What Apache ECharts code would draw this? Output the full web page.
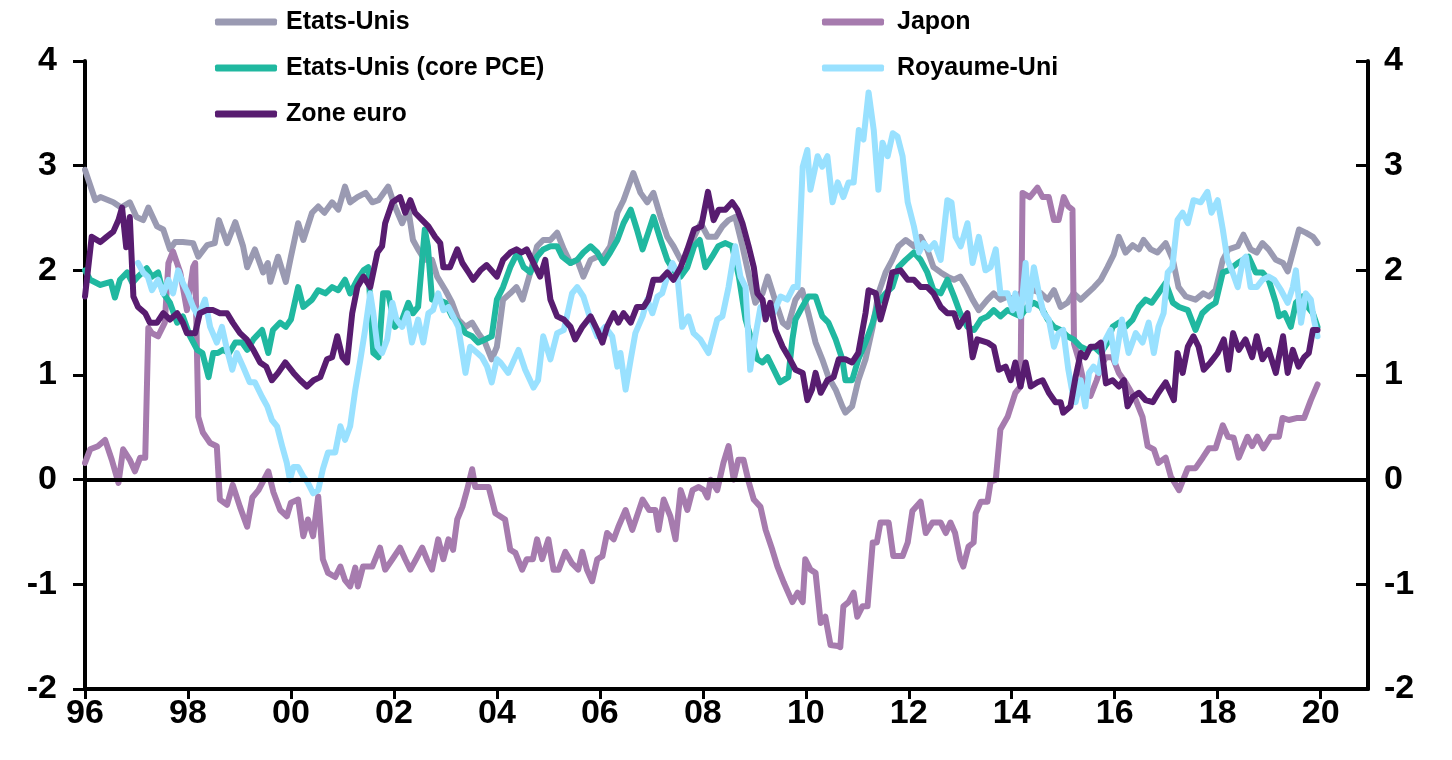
<!DOCTYPE html>
<html>
<head>
<meta charset="utf-8">
<script src="https://cdn.jsdelivr.net/npm/echarts@6/dist/echarts.min.js"></script>
<style>
  html, body { margin: 0; padding: 0; background: #fff; }
  #chart { width: 1452px; height: 760px; }
</style>
</head>
<body>
<div id="chart"></div>
<script>
// inflation sous-jacente, % a/a — [année décimale, valeur]
const etatsUnis = [[1996.0,2.96],[1996.2,2.67],[1996.3,2.7],[1996.55,2.65],[1996.7,2.6],[1996.87,2.65],[1997.0,2.51],[1997.13,2.48],[1997.23,2.6],[1997.4,2.42],[1997.52,2.39],[1997.65,2.2],[1997.75,2.27],[1997.9,2.27],[1998.1,2.26],[1998.2,2.13],[1998.37,2.24],[1998.52,2.26],[1998.6,2.48],[1998.76,2.26],[1998.92,2.46],[1999.07,2.23],[1999.15,2.03],[1999.3,2.2],[1999.46,1.98],[1999.55,2.07],[1999.6,1.89],[1999.75,2.13],[1999.9,1.89],[2000.0,2.13],[2000.14,2.45],[2000.24,2.29],[2000.41,2.55],[2000.53,2.61],[2000.65,2.55],[2000.8,2.65],[2000.92,2.58],[2001.05,2.8],[2001.15,2.65],[2001.29,2.7],[2001.45,2.74],[2001.58,2.65],[2001.7,2.67],[2001.89,2.8],[2002.02,2.61],[2002.16,2.45],[2002.28,2.58],[2002.37,2.29],[2002.47,2.2],[2002.6,2.1],[2002.74,2.1],[2002.84,1.94],[2003.0,1.81],[2003.13,1.69],[2003.25,1.53],[2003.39,1.46],[2003.52,1.5],[2003.64,1.4],[2003.77,1.31],[2003.9,1.15],[2004.0,1.27],[2004.12,1.72],[2004.26,1.78],[2004.38,1.84],[2004.5,1.72],[2004.65,1.98],[2004.78,2.23],[2004.9,2.29],[2005.04,2.29],[2005.17,2.36],[2005.3,2.2],[2005.43,2.07],[2005.56,2.1],[2005.68,1.94],[2005.82,2.1],[2005.95,2.13],[2006.07,2.13],[2006.2,2.23],[2006.34,2.55],[2006.46,2.67],[2006.6,2.86],[2006.65,2.93],[2006.79,2.74],[2006.92,2.65],[2007.04,2.74],[2007.18,2.51],[2007.31,2.32],[2007.43,2.23],[2007.57,2.1],[2007.7,2.1],[2007.83,2.32],[2007.96,2.45],[2008.1,2.32],[2008.25,2.32],[2008.38,2.42],[2008.5,2.48],[2008.63,2.51],[2008.77,2.23],[2008.9,1.94],[2009.02,1.69],[2009.16,1.78],[2009.26,1.94],[2009.4,1.72],[2009.55,1.5],[2009.65,1.46],[2009.8,1.72],[2009.93,1.81],[2010.05,1.59],[2010.19,1.31],[2010.32,1.15],[2010.44,0.98],[2010.58,0.86],[2010.71,0.7],[2010.77,0.64],[2010.9,0.7],[2011.02,0.95],[2011.16,1.15],[2011.3,1.46],[2011.41,1.78],[2011.55,1.98],[2011.68,2.1],[2011.8,2.23],[2011.94,2.29],[2012.1,2.23],[2012.23,2.32],[2012.36,2.2],[2012.48,2.03],[2012.62,1.98],[2012.75,1.94],[2012.88,1.91],[2013.0,1.94],[2013.12,1.84],[2013.24,1.72],[2013.36,1.62],[2013.53,1.72],[2013.65,1.78],[2013.78,1.72],[2013.92,1.75],[2014.04,1.72],[2014.17,1.78],[2014.3,1.78],[2014.43,1.81],[2014.57,1.78],[2014.7,1.72],[2014.82,1.81],[2014.95,1.65],[2015.08,1.69],[2015.2,1.78],[2015.34,1.72],[2015.47,1.78],[2015.6,1.84],[2015.73,1.91],[2015.86,2.03],[2015.98,2.15],[2016.08,2.32],[2016.21,2.17],[2016.35,2.24],[2016.47,2.2],[2016.56,2.29],[2016.7,2.2],[2016.83,2.17],[2016.99,2.26],[2017.13,2.1],[2017.24,1.84],[2017.38,1.75],[2017.57,1.72],[2017.72,1.78],[2017.83,1.75],[2017.96,1.81],[2018.1,2.1],[2018.21,2.2],[2018.39,2.23],[2018.5,2.34],[2018.64,2.2],[2018.76,2.17],[2018.87,2.26],[2018.99,2.2],[2019.13,2.1],[2019.27,2.07],[2019.36,1.99],[2019.46,2.17],[2019.58,2.39],[2019.71,2.36],[2019.85,2.32],[2019.94,2.26]];

const japon = [[1996.0,0.16],[1996.1,0.29],[1996.25,0.32],[1996.39,0.38],[1996.52,0.19],[1996.65,-0.03],[1996.74,0.29],[1996.87,0.19],[1996.97,0.08],[1997.07,0.21],[1997.17,0.21],[1997.23,1.45],[1997.3,1.4],[1997.42,1.37],[1997.55,1.5],[1997.62,2.07],[1997.71,2.18],[1997.85,1.98],[1997.98,1.62],[1998.1,2.03],[1998.14,2.07],[1998.2,0.6],[1998.29,0.45],[1998.43,0.35],[1998.56,0.32],[1998.62,-0.19],[1998.76,-0.24],[1998.87,-0.05],[1999.01,-0.26],[1999.15,-0.45],[1999.25,-0.17],[1999.37,-0.1],[1999.56,0.08],[1999.66,-0.12],[1999.79,-0.29],[1999.92,-0.35],[2000.0,-0.22],[2000.14,-0.19],[2000.24,-0.54],[2000.33,-0.38],[2000.43,-0.54],[2000.53,-0.16],[2000.62,-0.76],[2000.72,-0.89],[2000.86,-0.93],[2000.96,-0.83],[2001.05,-0.96],[2001.15,-1.02],[2001.25,-0.84],[2001.3,-1.02],[2001.4,-0.83],[2001.58,-0.83],[2001.73,-0.65],[2001.83,-0.86],[2001.97,-0.76],[2002.12,-0.65],[2002.22,-0.76],[2002.32,-0.86],[2002.43,-0.76],[2002.55,-0.65],[2002.64,-0.76],[2002.74,-0.86],[2002.86,-0.57],[2002.96,-0.76],[2003.06,-0.57],[2003.15,-0.67],[2003.23,-0.38],[2003.33,-0.26],[2003.42,-0.1],[2003.52,0.1],[2003.58,-0.07],[2003.74,-0.07],[2003.84,-0.07],[2003.97,-0.32],[2004.16,-0.38],[2004.26,-0.67],[2004.36,-0.7],[2004.49,-0.86],[2004.58,-0.76],[2004.7,-0.76],[2004.78,-0.57],[2004.88,-0.76],[2005.0,-0.57],[2005.1,-0.86],[2005.2,-0.86],[2005.33,-0.69],[2005.46,-0.8],[2005.58,-0.86],[2005.66,-0.69],[2005.75,-0.86],[2005.85,-0.97],[2005.95,-0.76],[2006.05,-0.73],[2006.14,-0.51],[2006.27,-0.57],[2006.36,-0.45],[2006.5,-0.29],[2006.63,-0.48],[2006.83,-0.19],[2006.96,-0.29],[2007.08,-0.29],[2007.14,-0.48],[2007.24,-0.19],[2007.37,-0.35],[2007.47,-0.57],[2007.57,-0.1],[2007.7,-0.29],[2007.8,-0.1],[2007.92,-0.07],[2008.02,-0.1],[2008.09,-0.17],[2008.15,0.0],[2008.28,-0.1],[2008.4,0.16],[2008.5,0.32],[2008.6,0.0],[2008.69,0.19],[2008.79,0.19],[2008.89,-0.02],[2008.99,-0.19],[2009.12,-0.26],[2009.22,-0.48],[2009.35,-0.67],[2009.45,-0.83],[2009.57,-0.98],[2009.74,-1.17],[2009.84,-1.08],[2009.94,-1.17],[2009.99,-0.76],[2010.09,-0.86],[2010.19,-0.89],[2010.29,-1.37],[2010.38,-1.31],[2010.48,-1.58],[2010.62,-1.59],[2010.67,-1.6],[2010.73,-1.21],[2010.83,-1.17],[2010.93,-1.08],[2011.0,-1.31],[2011.1,-1.21],[2011.2,-1.21],[2011.3,-0.6],[2011.38,-0.6],[2011.45,-0.41],[2011.61,-0.41],[2011.7,-0.73],[2011.88,-0.73],[2011.98,-0.6],[2012.07,-0.3],[2012.23,-0.21],[2012.33,-0.51],[2012.46,-0.41],[2012.62,-0.41],[2012.72,-0.51],[2012.81,-0.41],[2012.9,-0.51],[2013.0,-0.76],[2013.06,-0.83],[2013.16,-0.64],[2013.26,-0.6],[2013.3,-0.32],[2013.4,-0.21],[2013.53,-0.21],[2013.59,-0.02],[2013.69,0.0],[2013.78,0.48],[2013.92,0.6],[2014.07,0.83],[2014.17,0.89],[2014.21,2.74],[2014.35,2.7],[2014.5,2.79],[2014.6,2.7],[2014.72,2.7],[2014.82,2.48],[2014.91,2.48],[2015.01,2.7],[2015.1,2.61],[2015.18,2.58],[2015.21,1.3],[2015.3,1.15],[2015.4,0.93],[2015.53,0.8],[2015.65,0.95],[2015.75,1.1],[2015.83,1.17],[2015.96,1.17],[2016.08,1.02],[2016.21,0.93],[2016.41,0.76],[2016.54,0.6],[2016.64,0.32],[2016.76,0.29],[2016.85,0.16],[2016.99,0.21],[2017.09,0.03],[2017.25,-0.1],[2017.42,0.11],[2017.57,0.11],[2017.71,0.21],[2017.83,0.3],[2017.96,0.3],[2018.1,0.52],[2018.2,0.41],[2018.31,0.4],[2018.41,0.21],[2018.58,0.41],[2018.67,0.32],[2018.77,0.41],[2018.89,0.3],[2019.03,0.41],[2019.19,0.41],[2019.26,0.59],[2019.38,0.57],[2019.55,0.59],[2019.68,0.59],[2019.81,0.76],[2019.94,0.91]];

const etatsUnisPce = [[1996.0,2.0],[1996.1,1.91],[1996.3,1.86],[1996.5,1.89],[1996.58,1.74],[1996.68,1.91],[1996.82,1.98],[1996.92,1.88],[1997.03,1.94],[1997.2,2.02],[1997.3,1.94],[1997.42,1.98],[1997.52,1.78],[1997.65,1.69],[1997.79,1.5],[1997.9,1.56],[1998.04,1.37],[1998.18,1.24],[1998.28,1.21],[1998.4,0.98],[1998.49,1.21],[1998.58,1.21],[1998.68,1.24],[1998.8,1.21],[1998.92,1.31],[1999.05,1.31],[1999.15,1.24],[1999.27,1.34],[1999.44,1.43],[1999.56,1.21],[1999.65,1.43],[1999.79,1.5],[1999.9,1.46],[2000.0,1.53],[2000.14,1.84],[2000.24,1.65],[2000.41,1.72],[2000.53,1.81],[2000.67,1.78],[2000.8,1.84],[2000.92,1.81],[2001.05,1.91],[2001.15,1.78],[2001.29,1.91],[2001.41,2.0],[2001.5,2.03],[2001.6,1.21],[2001.7,1.17],[2001.79,1.78],[2001.89,1.78],[2002.02,1.46],[2002.16,1.53],[2002.28,1.69],[2002.37,1.59],[2002.47,1.65],[2002.6,2.39],[2002.66,2.23],[2002.74,1.72],[2002.86,1.72],[2003.0,1.69],[2003.13,1.56],[2003.25,1.5],[2003.39,1.4],[2003.52,1.37],[2003.64,1.31],[2003.77,1.34],[2003.9,1.37],[2004.0,1.72],[2004.12,1.84],[2004.26,2.03],[2004.4,2.17],[2004.52,2.03],[2004.65,1.98],[2004.78,2.13],[2004.9,2.2],[2005.04,2.23],[2005.17,2.23],[2005.27,2.13],[2005.43,2.07],[2005.56,2.1],[2005.68,2.17],[2005.82,2.23],[2005.95,2.17],[2006.07,2.07],[2006.2,2.17],[2006.34,2.29],[2006.46,2.45],[2006.6,2.58],[2006.72,2.39],[2006.83,2.2],[2006.94,2.36],[2007.04,2.51],[2007.18,2.29],[2007.31,2.1],[2007.43,2.0],[2007.57,1.94],[2007.7,2.03],[2007.83,2.23],[2007.94,2.29],[2008.05,2.03],[2008.18,2.13],[2008.3,2.23],[2008.44,2.26],[2008.57,2.23],[2008.7,1.94],[2008.83,1.53],[2008.96,1.31],[2009.06,1.15],[2009.16,1.12],[2009.26,1.17],[2009.38,1.05],[2009.5,0.93],[2009.66,0.98],[2009.74,1.34],[2009.8,1.53],[2009.93,1.65],[2010.05,1.75],[2010.19,1.75],[2010.32,1.56],[2010.44,1.5],[2010.58,1.34],[2010.71,1.15],[2010.77,0.95],[2010.9,0.95],[2011.02,1.15],[2011.16,1.31],[2011.3,1.5],[2011.41,1.69],[2011.55,1.78],[2011.68,1.84],[2011.8,2.03],[2011.94,2.1],[2012.1,2.17],[2012.23,2.1],[2012.36,1.98],[2012.48,1.81],[2012.62,1.78],[2012.75,1.91],[2012.88,1.75],[2013.0,1.59],[2013.14,1.46],[2013.27,1.43],[2013.4,1.53],[2013.53,1.56],[2013.65,1.62],[2013.78,1.56],[2013.92,1.62],[2014.04,1.59],[2014.17,1.56],[2014.3,1.65],[2014.43,1.69],[2014.57,1.65],[2014.7,1.53],[2014.82,1.46],[2014.95,1.43],[2015.08,1.37],[2015.2,1.34],[2015.34,1.27],[2015.47,1.24],[2015.6,1.27],[2015.73,1.21],[2015.86,1.31],[2015.96,1.46],[2016.08,1.5],[2016.21,1.46],[2016.35,1.53],[2016.47,1.65],[2016.6,1.72],[2016.72,1.69],[2016.85,1.78],[2016.99,1.88],[2017.13,1.69],[2017.25,1.65],[2017.42,1.62],[2017.57,1.43],[2017.7,1.59],[2017.83,1.65],[2017.96,1.69],[2018.1,1.98],[2018.21,2.0],[2018.39,2.07],[2018.49,2.1],[2018.6,2.13],[2018.74,1.98],[2018.87,1.98],[2018.99,1.91],[2019.13,1.69],[2019.19,1.56],[2019.3,1.59],[2019.42,1.46],[2019.52,1.69],[2019.65,1.75],[2019.75,1.65],[2019.85,1.59],[2019.94,1.46]];

const royaumeUni = [[1997.03,2.07],[1997.13,1.98],[1997.22,1.94],[1997.3,1.81],[1997.42,1.91],[1997.52,1.78],[1997.62,1.91],[1997.71,1.78],[1997.81,2.0],[1997.9,1.88],[1998.0,1.78],[1998.1,1.65],[1998.2,1.56],[1998.33,1.72],[1998.43,1.46],[1998.56,1.31],[1998.66,1.46],[1998.76,1.24],[1998.86,1.05],[1998.95,1.21],[1999.07,1.08],[1999.2,0.93],[1999.3,0.93],[1999.44,0.79],[1999.54,0.7],[1999.63,0.57],[1999.73,0.51],[1999.83,0.32],[1999.92,0.16],[1999.98,0.0],[2000.05,0.12],[2000.14,0.12],[2000.24,0.03],[2000.33,-0.03],[2000.43,-0.13],[2000.53,-0.1],[2000.62,0.1],[2000.72,0.26],[2000.86,0.26],[2000.96,0.51],[2001.05,0.38],[2001.15,0.51],[2001.25,0.86],[2001.35,1.15],[2001.44,1.43],[2001.54,1.78],[2001.6,1.59],[2001.68,1.27],[2001.77,1.21],[2001.87,1.34],[2001.97,1.69],[2002.05,1.53],[2002.16,1.46],[2002.26,1.59],[2002.35,1.31],[2002.47,1.53],[2002.57,1.31],[2002.67,1.59],[2002.76,1.62],[2002.86,1.78],[2002.96,1.62],[2003.06,1.65],[2003.15,1.56],[2003.25,1.46],[2003.39,1.02],[2003.48,1.27],[2003.62,1.21],[2003.71,1.17],[2003.81,1.08],[2003.9,0.93],[2004.0,1.15],[2004.07,1.12],[2004.22,1.02],[2004.42,1.24],[2004.55,1.05],[2004.71,0.88],[2004.8,0.95],[2004.9,1.37],[2005.04,1.15],[2005.17,1.4],[2005.3,1.43],[2005.46,1.78],[2005.56,1.84],[2005.68,1.75],[2005.82,1.53],[2005.95,1.37],[2006.1,1.46],[2006.24,1.37],[2006.34,1.08],[2006.4,1.21],[2006.5,0.86],[2006.6,1.15],[2006.69,1.4],[2006.83,1.56],[2006.92,1.72],[2007.02,1.59],[2007.12,1.75],[2007.21,1.78],[2007.31,1.94],[2007.41,2.07],[2007.5,1.98],[2007.6,1.46],[2007.72,1.56],[2007.82,1.4],[2007.95,1.34],[2008.11,1.21],[2008.21,1.4],[2008.28,1.53],[2008.38,1.56],[2008.5,1.84],[2008.63,2.23],[2008.73,1.94],[2008.83,1.84],[2008.92,1.05],[2009.02,1.37],[2009.12,1.65],[2009.26,1.59],[2009.37,1.59],[2009.51,1.75],[2009.64,1.72],[2009.76,1.84],[2009.84,1.84],[2009.94,2.99],[2010.03,3.15],[2010.09,2.77],[2010.23,3.09],[2010.32,2.99],[2010.42,3.09],[2010.52,2.65],[2010.62,2.84],[2010.73,2.7],[2010.83,2.84],[2010.93,2.84],[2011.03,3.34],[2011.12,3.25],[2011.22,3.7],[2011.32,3.34],[2011.41,2.77],[2011.49,3.22],[2011.59,3.09],[2011.69,3.31],[2011.78,3.28],[2011.88,3.09],[2011.98,2.65],[2012.1,2.42],[2012.2,2.17],[2012.29,2.26],[2012.39,2.2],[2012.5,2.26],[2012.62,2.1],[2012.75,2.67],[2012.83,2.65],[2012.91,2.32],[2013.01,2.23],[2013.14,2.45],[2013.24,2.07],[2013.36,2.32],[2013.49,2.0],[2013.59,2.03],[2013.69,2.2],[2013.78,1.78],[2013.92,1.78],[2014.02,1.62],[2014.07,1.78],[2014.17,1.56],[2014.27,2.07],[2014.33,1.62],[2014.43,2.03],[2014.53,1.78],[2014.62,1.59],[2014.72,1.53],[2014.82,1.27],[2014.91,1.4],[2015.0,1.43],[2015.1,1.05],[2015.18,0.83],[2015.24,0.74],[2015.34,0.95],[2015.43,0.7],[2015.5,1.02],[2015.59,1.08],[2015.69,1.02],[2015.79,1.31],[2015.92,1.43],[2016.01,1.12],[2016.14,1.53],[2016.27,1.21],[2016.41,1.4],[2016.54,1.31],[2016.66,1.5],[2016.76,1.21],[2016.85,1.46],[2016.95,1.59],[2017.03,1.98],[2017.12,2.03],[2017.22,2.48],[2017.32,2.55],[2017.42,2.45],[2017.53,2.67],[2017.67,2.65],[2017.8,2.75],[2017.88,2.55],[2018.0,2.67],[2018.1,2.39],[2018.19,2.1],[2018.29,1.98],[2018.39,1.84],[2018.49,2.1],[2018.55,2.13],[2018.64,1.84],[2018.76,1.84],[2018.87,1.91],[2018.99,1.94],[2019.1,1.91],[2019.23,1.81],[2019.36,1.69],[2019.46,1.84],[2019.52,2.0],[2019.62,1.5],[2019.71,1.78],[2019.81,1.72],[2019.87,1.53],[2019.94,1.37]];

const zoneEuro = [[1996.0,1.75],[1996.13,2.32],[1996.3,2.27],[1996.42,2.32],[1996.55,2.37],[1996.65,2.48],[1996.72,2.6],[1996.8,2.22],[1996.87,2.51],[1996.94,1.75],[1997.03,1.65],[1997.17,1.59],[1997.26,1.5],[1997.4,1.5],[1997.52,1.59],[1997.65,1.53],[1997.79,1.59],[1997.9,1.5],[1997.98,1.4],[1998.14,1.4],[1998.23,1.59],[1998.36,1.62],[1998.49,1.62],[1998.62,1.59],[1998.76,1.59],[1998.87,1.5],[1999.01,1.4],[1999.14,1.34],[1999.27,1.24],[1999.4,1.12],[1999.52,1.08],[1999.63,0.95],[1999.75,1.02],[1999.89,1.12],[2000.05,1.02],[2000.18,0.95],[2000.31,0.89],[2000.44,0.95],[2000.57,0.98],[2000.7,1.15],[2000.8,1.17],[2000.9,1.37],[2001.0,1.17],[2001.09,1.12],[2001.19,1.59],[2001.29,1.84],[2001.41,1.94],[2001.54,1.84],[2001.68,2.17],[2001.77,2.23],[2001.83,2.45],[2001.97,2.65],[2002.12,2.7],[2002.22,2.55],[2002.32,2.67],[2002.41,2.55],[2002.55,2.48],[2002.67,2.42],[2002.8,2.32],[2002.9,2.26],[2002.96,2.03],[2003.09,2.03],[2003.23,2.2],[2003.33,2.07],[2003.45,1.98],[2003.54,1.91],[2003.68,2.0],[2003.8,2.05],[2003.93,1.98],[2004.0,1.94],[2004.12,2.1],[2004.26,2.17],[2004.38,2.2],[2004.48,2.17],[2004.58,2.2],[2004.71,2.07],[2004.84,1.94],[2004.94,2.1],[2005.04,1.72],[2005.17,1.56],[2005.3,1.53],[2005.43,1.46],[2005.52,1.34],[2005.66,1.46],[2005.82,1.56],[2005.95,1.43],[2006.05,1.31],[2006.14,1.46],[2006.27,1.59],[2006.36,1.5],[2006.46,1.59],[2006.6,1.5],[2006.72,1.65],[2006.85,1.65],[2006.94,1.72],[2007.04,1.91],[2007.18,1.91],[2007.31,1.98],[2007.43,1.91],[2007.57,2.03],[2007.7,2.2],[2007.83,2.39],[2007.97,2.42],[2008.1,2.75],[2008.21,2.48],[2008.31,2.58],[2008.44,2.58],[2008.57,2.65],[2008.67,2.58],[2008.77,2.45],[2008.89,2.23],[2008.99,2.03],[2009.06,1.78],[2009.16,1.72],[2009.22,1.53],[2009.31,1.69],[2009.41,1.43],[2009.55,1.27],[2009.67,1.17],[2009.8,1.05],[2009.94,1.02],[2010.03,0.76],[2010.12,0.86],[2010.19,1.02],[2010.29,0.83],[2010.42,0.95],[2010.54,0.98],[2010.64,1.15],[2010.77,1.15],[2010.9,1.12],[2011.02,1.21],[2011.16,1.59],[2011.22,1.81],[2011.36,1.78],[2011.45,1.53],[2011.59,1.78],[2011.68,1.98],[2011.84,2.0],[2011.98,1.91],[2012.1,1.91],[2012.23,1.84],[2012.36,1.84],[2012.48,1.78],[2012.62,1.65],[2012.75,1.59],[2012.88,1.59],[2012.97,1.46],[2013.14,1.59],[2013.24,1.17],[2013.33,1.34],[2013.53,1.31],[2013.65,1.27],[2013.75,1.05],[2013.88,1.08],[2013.98,0.95],[2014.07,1.12],[2014.17,0.89],[2014.27,1.12],[2014.37,0.89],[2014.5,0.93],[2014.6,0.95],[2014.72,0.83],[2014.85,0.74],[2014.95,0.74],[2015.0,0.64],[2015.14,0.7],[2015.24,0.98],[2015.34,1.21],[2015.43,1.17],[2015.53,1.27],[2015.63,1.27],[2015.73,1.31],[2015.83,0.92],[2015.96,0.95],[2016.08,0.89],[2016.18,0.95],[2016.25,0.7],[2016.35,0.79],[2016.47,0.83],[2016.6,0.76],[2016.74,0.74],[2016.85,0.83],[2016.99,0.93],[2017.15,0.76],[2017.22,1.21],[2017.32,1.02],[2017.42,1.27],[2017.53,1.37],[2017.63,1.27],[2017.73,1.05],[2017.86,1.12],[2018.0,1.21],[2018.12,1.34],[2018.21,1.05],[2018.3,1.4],[2018.41,1.24],[2018.54,1.34],[2018.67,1.17],[2018.76,1.37],[2018.87,1.15],[2018.99,1.24],[2019.13,1.02],[2019.27,1.37],[2019.36,1.02],[2019.46,1.24],[2019.57,1.08],[2019.68,1.17],[2019.77,1.21],[2019.85,1.43],[2019.94,1.43]];

const yTicks = { min: -2, max: 4, interval: 1 };
const xTicks = { min: 1996, max: 2020.92, interval: 2 };

const FONT = '"Liberation Sans", Arial, sans-serif';
const chart = echarts.init(document.getElementById('chart'));

function line(name, data, color, withZero) {
  const s = {
    name: name,
    type: 'line',
    data: data,
    symbol: 'none',
    showSymbol: false,
    animation: false,
    lineStyle: { width: 6, color: color, cap: 'round', join: 'round' },
    itemStyle: { color: color }
  };
  if (withZero) {
    s.markLine = {
      silent: true,
      symbol: ['none', 'none'],
      label: { show: false },
      lineStyle: { color: '#000', width: 4, type: 'solid' },
      data: [{ yAxis: 0 }]
    };
  }
  return s;
}

const yAxisBase = {
  type: 'value',
  min: yTicks.min,
  max: yTicks.max,
  interval: yTicks.interval,
  splitLine: { show: false },
  axisLine: { show: true, lineStyle: { color: '#000', width: 4 } },
  axisTick: { show: true, inside: false, length: 12, lineStyle: { color: '#000', width: 3 } },
  axisLabel: { color: '#000', fontFamily: FONT, fontWeight: 'bold', fontSize: 34 }
};

const legendText = { color: '#000', fontFamily: FONT, fontWeight: 'bold', fontSize: 25, lineHeight: 28, padding: [0, 0, 0, 4] };

chart.setOption({
  backgroundColor: '#fff',
  animation: false,
  grid: { left: 85, right: 84, top: 61, bottom: 71, outerBoundsMode: 'none' },
  legend: [
    {
      orient: 'vertical', left: 210, top: 3, itemWidth: 62, itemHeight: 7, itemGap: 18, icon: 'roundRect',
      data: ['Etats-Unis', 'Etats-Unis (core PCE)', 'Zone euro'],
      textStyle: legendText
    },
    {
      orient: 'vertical', left: 817, top: 3, itemWidth: 62, itemHeight: 7, itemGap: 18, icon: 'roundRect',
      data: ['Japon', 'Royaume-Uni'],
      textStyle: Object.assign({}, legendText, { padding: [0, 0, 0, 8] })
    }
  ],
  xAxis: {
    type: 'value',
    min: xTicks.min,
    max: xTicks.max,
    interval: xTicks.interval,
    splitLine: { show: false },
    axisLine: { onZero: false, lineStyle: { color: '#000', width: 4 } },
    axisTick: { show: true, length: 10, lineStyle: { color: '#000', width: 3 } },
    axisLabel: {
      color: '#000', fontFamily: FONT, fontWeight: 'bold', fontSize: 34, margin: 8,
      showMaxLabel: false,
      formatter: function (v) {
        const r = Math.round(v);
        if (Math.abs(v - r) > 1e-6 || r % 2 !== 0) return '';
        return String(r).slice(2);
      }
    }
  },
  yAxis: [
    Object.assign({}, yAxisBase, { position: 'left', axisLabel: Object.assign({}, yAxisBase.axisLabel, { margin: 28 }) }),
    Object.assign({}, yAxisBase, {
      position: 'right',
      axisTick: Object.assign({}, yAxisBase.axisTick, { inside: true }),
      axisLabel: Object.assign({}, yAxisBase.axisLabel, { margin: 16 })
    })
  ],
  series: [
    line('Etats-Unis', etatsUnis, '#9A9AB2', true),
    line('Japon', japon, '#A67BAE'),
    line('Etats-Unis (core PCE)', etatsUnisPce, '#20B8A0'),
    line('Royaume-Uni', royaumeUni, '#99E1FF'),
    line('Zone euro', zoneEuro, '#581C70')
  ]
});
</script>
</body>
</html>
